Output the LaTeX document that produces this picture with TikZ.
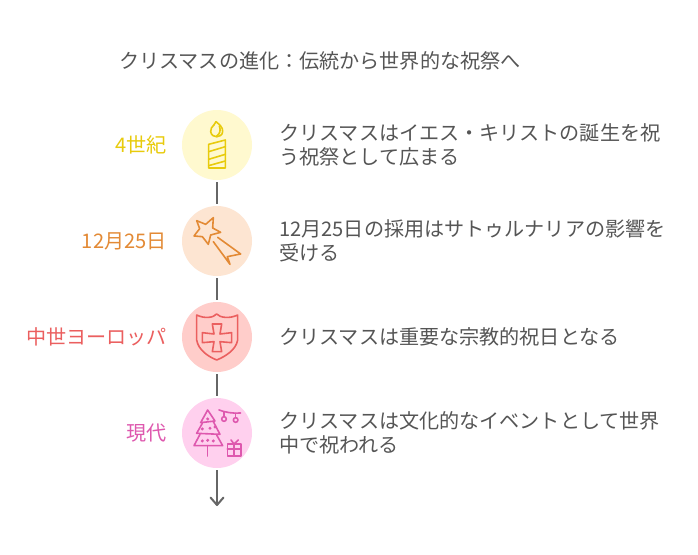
\documentclass[tikz,border=0pt]{standalone}
\usepackage{fontspec}
\setmainfont{Noto Sans CJK JP}
\definecolor{txt}{HTML}{555555}
\definecolor{cy}{HTML}{E8CB0C}
\definecolor{co}{HTML}{E38A35}
\definecolor{cr}{HTML}{EB5F5F}
\definecolor{cp}{HTML}{DE58AE}
\definecolor{by}{HTML}{FFF9CF}
\definecolor{bo}{HTML}{FDE5D2}
\definecolor{br}{HTML}{FFCDCA}
\definecolor{bp}{HTML}{FFD0EE}
\definecolor{lin}{HTML}{666666}
\tikzset{x=1pt,y=-1pt,
 circ/.style={circle,minimum size=70pt,inner sep=0pt},
 lab/.style={anchor=east,font=\fontsize{20.1pt}{24pt}\selectfont,inner sep=0pt},
 desc/.style={anchor=west,align=left,text=txt,font=\fontsize{20.1pt}{24pt}\selectfont,inner sep=0pt},
 conn/.style={draw=lin,line width=2pt,shorten <=2pt},
 icon/.style={line width=1.6pt,line join=round,line cap=round}}
\begin{document}
\begin{tikzpicture}
\useasboundingbox (0,0) rectangle (698,554);
\fill[white] (0,0) rectangle (698,554);
\node[anchor=west,inner sep=0pt,text=txt,font=\fontsize{20.1pt}{24pt}\selectfont] (title) at (119,61) {クリスマスの進化：伝統から世界的な祝祭へ};
\node[circ,fill=by] (c1) at (217,145) {};
\node[circ,fill=bo] (c2) at (217,241) {};
\node[circ,fill=br] (c3) at (217,337) {};
\node[circ,fill=bp] (c4) at (217,433) {};
\coordinate (end) at (217,505);
\draw[conn,shorten >=2pt] (c1) -- (c2);
\draw[conn,shorten >=2pt] (c2) -- (c3);
\draw[conn,shorten >=2pt] (c3) -- (c4);
\draw[conn] (c4) -- (end);
\draw[draw=lin,line width=2pt,line cap=round,line join=round] (210.5,497.5) -- (end) -- (223.5,497.5);
\node[lab,text=cy] (l1) at (167,145) {4世紀};
\node[lab,text=co] (l2) at (167,241) {12月25日};
\node[lab,text=cr] (l3) at (167,337) {中世ヨーロッパ};
\node[lab,text=cp] (l4) at (167,433) {現代};
\node[desc] (d1) at (279,145) {クリスマスはイエス・キリストの誕生を祝\\う祝祭として広まる};
\node[desc] (d2) at (279,241) {12月25日の採用はサトゥルナリアの影響を\\受ける};
\node[desc] (d3) at (279,337) {クリスマスは重要な宗教的祝日となる};
\node[desc] (d4) at (279,433) {クリスマスは文化的なイベントとして世界\\中で祝われる};
% candle
\begin{scope}[icon,draw=cy,shift={(170,100)},x=0.3333pt,y=-0.3333pt]
\draw (116,133) -- (166,120) -- (166,204) -- (116,204) -- cycle;
\draw (116,155) -- (166,140) (116,178) -- (166,163) (116,197) -- (166,183);
\draw (138,65) .. controls (146,72) and (160,82) .. (158,95) .. controls (156,115) and (125,116) .. (122,95) .. controls (121,85) and (127,80) .. (131,76);
\draw (131,76) .. controls (133,73) and (136,70) .. (138,65);
\draw (148,78) .. controls (153,90) and (150,102) .. (140,108);
\end{scope}
% star
\begin{scope}[icon,draw=co,shift={(170,100)},x=0.3333pt,y=-0.3333pt]
\draw (80,362) -- (107,373) -- (130,353) -- (128,384) -- (152,397) -- (122,405) -- (115,433) -- (97,410) -- (72,408) -- (89,386) -- cycle;
\draw (143,412) -- (212,462) -- (172,470) -- (180,493) -- (130,425);
\end{scope}
% shield
\begin{scope}[icon,draw=cr,shift={(170,295)},x=0.3333pt,y=-0.3333pt]
\draw (140,57) .. controls (130,68) and (105,72) .. (80,60) -- (80,135) .. controls (85,165) and (115,185) .. (140,195) .. controls (165,185) and (198,165) .. (203,135) -- (203,60) .. controls (178,72) and (150,68) .. (140,57) -- cycle;
\draw (127,87) -- (155,87) -- (150,117) -- (185,113) -- (185,143) -- (150,140) -- (155,170) -- (127,170) -- (132,140) -- (97,143) -- (97,113) -- (132,117) -- cycle;
\end{scope}
% tree
\begin{scope}[icon,draw=cp,shift={(170,295)},x=0.3333pt,y=-0.3333pt]
\draw (113,345) -- (92,383) -- (135,378) -- cycle;
\draw (97,385) -- (80,415) -- (150,418) -- (130,380);
\draw (90,418) -- (72,452) -- (158,452) -- (140,420);
\draw (113,452) -- (113,483);
\fill[cp] (113,372) circle (5) (97,402) circle (5) (120,400) circle (5) (135,396) circle (5) (97,438) circle (5) (113,436) circle (5) (130,438) circle (5);
\draw (147,345) .. controls (165,352) and (190,356) .. (212,354);
\draw (162,350) -- (162,365) (197,355) -- (197,368);
\draw (162,372) circle (7) (197,375) circle (7);
\draw (172,447) rectangle (213,483);
\draw (192,447) -- (192,483) (172,462) -- (213,462);
\draw (192,447) -- (183,435) (192,447) -- (205,435);
\end{scope}
\end{tikzpicture}
\end{document}
